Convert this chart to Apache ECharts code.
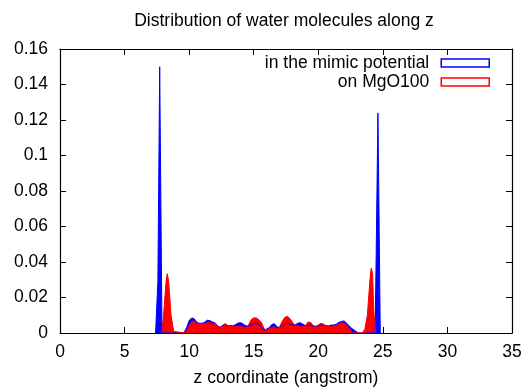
<!DOCTYPE html>
<html>
  <head>
    <meta charset="utf-8">
    <title>Distribution of water molecules along z</title>
    <style>
      html, body { margin: 0; padding: 0; background: #fff; }
      #chart { width: 523px; height: 387px; }
    </style>
  </head>
  <body>
    <div id="chart"></div>
    <script src="https://cdn.jsdelivr.net/npm/echarts@6/dist/echarts.min.js"></script>
    <script>
      // Data (z in angstrom, probability)
      var blueZ = [7.4, 7.55, 7.58, 7.7, 7.72, 7.86, 7.9,
        9.6, 9.8, 10.0, 10.2, 10.4, 10.6, 10.8, 11.0, 11.2, 11.4, 11.6, 11.8, 12.0,
        12.2, 12.4, 12.6, 12.8, 13.0, 13.2, 13.4, 13.6, 13.8, 14.0, 14.2, 14.4, 14.6,
        14.8, 15.0, 15.2, 15.4, 15.6, 15.8, 16.0, 16.2, 16.4, 16.6, 16.8, 17.0, 17.2,
        17.4, 17.6, 17.8, 18.0, 18.2, 18.4, 18.6, 18.8, 19.0, 19.2, 19.4, 19.6, 19.8,
        20.0, 20.2, 20.4, 20.6, 20.8, 21.0, 21.2, 21.4, 21.6, 21.8, 22.0, 22.2, 22.4,
        22.6, 22.8, 23.0, 23.2,
        24.4, 24.48, 24.6, 24.62, 24.75, 24.8];
      var blueP = [0, 0, 0.029, 0.029, 0.150, 0.150, 0,
        0, 0.003, 0.007, 0.0085, 0.008, 0.006, 0.0055, 0.0055, 0.006, 0.0072, 0.007, 0.0062, 0.0058,
        0.004, 0.0033, 0.0042, 0.005, 0.004, 0.0043, 0.004, 0.0048, 0.0056, 0.0058, 0.005, 0.004, 0.004,
        0.0045, 0.005, 0.0055, 0.005, 0.003, 0.0015, 0.0022, 0.003, 0.0048, 0.0052, 0.0035, 0.003, 0.004,
        0.005, 0.0055, 0.005, 0.0045, 0.0045, 0.0055, 0.0058, 0.005, 0.0042, 0.004, 0.0045, 0.0038, 0.0035,
        0.004, 0.0045, 0.0045, 0.0042, 0.004, 0.0045, 0.0045, 0.005, 0.006, 0.0065, 0.0068, 0.0055, 0.004,
        0.0025, 0.0015, 0.0005, 0,
        0, 0.043, 0.043, 0.124, 0.124, 0];

      var redZ = [7.85, 8.0, 8.2, 8.3, 8.4, 8.6, 8.8, 8.9,
        9.6, 9.8, 10.0, 10.2, 10.4, 10.6, 10.8, 11.0, 11.2, 11.4, 11.6, 11.8, 12.0,
        12.2, 12.4, 12.6, 12.8, 13.0, 13.2, 13.4, 13.6, 13.8, 14.0, 14.2, 14.4, 14.6,
        14.8, 15.0, 15.2, 15.4, 15.6, 15.8, 16.0, 16.2, 16.4, 16.6, 16.8, 17.0, 17.2,
        17.4, 17.6, 17.8, 18.0, 18.2, 18.4, 18.6, 18.8, 19.0, 19.2, 19.4, 19.6, 19.8,
        20.0, 20.2, 20.4, 20.6, 20.8, 21.0, 21.2, 21.4, 21.6, 21.8, 22.0, 22.2, 22.4,
        22.6,
        23.4, 23.6, 23.8, 24.0, 24.1, 24.2, 24.3, 24.45];
      var redP = [0, 0.008, 0.028, 0.0334, 0.03, 0.01, 0.001, 0,
        0, 0.001, 0.004, 0.0065, 0.0066, 0.0055, 0.0052, 0.0054, 0.0053, 0.0058, 0.0062, 0.005, 0.0056,
        0.0035, 0.003, 0.0045, 0.0052, 0.0042, 0.004, 0.0036, 0.0035, 0.004, 0.0038, 0.0032, 0.003, 0.0045,
        0.0075, 0.0085, 0.0085, 0.0075, 0.006, 0.0025, 0.0015, 0.0025, 0.0028, 0.0035, 0.002, 0.0035, 0.0065,
        0.0088, 0.0094, 0.0082, 0.006, 0.0045, 0.0042, 0.0035, 0.0036, 0.004, 0.0062, 0.006, 0.0042, 0.0038,
        0.0045, 0.0055, 0.005, 0.004, 0.0038, 0.0036, 0.004, 0.0042, 0.0052, 0.0058, 0.0055, 0.0045, 0.0025,
        0,
        0, 0.002, 0.01, 0.03, 0.0365, 0.034, 0.012, 0];

      var xTicks = { min: 0, max: 35, interval: 5 };
      var yTicks = { min: 0, max: 0.16, interval: 0.02 };

      var zip = function(xs, ys) {
        return xs.map(function(x, i) { return [x, ys[i]]; });
      };

      var font = 'Liberation Sans, Arial, sans-serif';
      var fs = 17.5;
      var frame = { show: true, onZero: false, lineStyle: { color: '#000', width: 1.2 } };
      var ticks = { show: true, inside: true, length: 6, lineStyle: { color: '#000' } };

      var chart = echarts.init(document.getElementById('chart'));
      chart.setOption({
        animation: false,
        backgroundColor: '#fff',
        title: {
          text: 'Distribution of water molecules along z',
          left: 284,
          top: 12,
          padding: 0,
          textAlign: 'center',
          textStyle: { fontFamily: font, fontSize: fs, fontWeight: 'normal', color: '#000' }
        },
        legend: {
          orient: 'vertical',
          right: 33,
          top: 54,
          padding: 0,
          align: 'right',
          icon: 'rect',
          itemWidth: 48,
          itemHeight: 8,
          itemGap: 1,
          textStyle: { fontFamily: font, fontSize: fs, color: '#000', padding: [0, 7, 0, 0] },
          data: [
            { name: 'in the mimic potential', itemStyle: { color: 'rgba(0,0,0,0)', borderColor: '#0000ff', borderWidth: 1.5 } },
            { name: 'on MgO100', itemStyle: { color: 'rgba(0,0,0,0)', borderColor: '#ff0000', borderWidth: 1.5 } }
          ]
        },
        grid: { left: 60, right: 11, top: 49, bottom: 54, containLabel: false, outerBoundsMode: 'none' },
        xAxis: [{
          type: 'value',
          min: xTicks.min, max: xTicks.max, interval: xTicks.interval,
          name: 'z coordinate (angstrom)',
          nameLocation: 'middle',
          nameGap: 36,
          nameTextStyle: { fontFamily: font, fontSize: fs, color: '#000' },
          axisLine: frame,
          axisTick: ticks,
          axisLabel: { margin: 10, fontFamily: font, fontSize: fs, color: '#000' },
          splitLine: { show: false }
        }, {
          type: 'value', position: 'top',
          min: xTicks.min, max: xTicks.max, interval: xTicks.interval,
          axisLine: frame, axisTick: ticks,
          axisLabel: { show: false }, splitLine: { show: false }
        }],
        yAxis: [{
          type: 'value',
          min: yTicks.min, max: yTicks.max, interval: yTicks.interval,
          axisLine: frame,
          axisTick: ticks,
          axisLabel: { margin: 12, fontFamily: font, fontSize: fs, color: '#000' },
          splitLine: { show: false }
        }, {
          type: 'value', position: 'right',
          min: yTicks.min, max: yTicks.max, interval: yTicks.interval,
          axisLine: frame, axisTick: ticks,
          axisLabel: { show: false }, splitLine: { show: false }
        }],
        series: [{
          name: 'in the mimic potential',
          type: 'line',
          data: zip(blueZ, blueP),
          showSymbol: false,
          lineStyle: { color: '#0000ff', width: 1 },
          itemStyle: { color: '#0000ff' },
          areaStyle: { color: '#0000ff', opacity: 1 }
        }, {
          name: 'on MgO100',
          type: 'line',
          data: zip(redZ, redP),
          showSymbol: false,
          lineStyle: { color: '#ff0000', width: 1 },
          itemStyle: { color: '#ff0000' },
          areaStyle: { color: '#ff0000', opacity: 1 }
        }]
      });
    </script>
  </body>
</html>
